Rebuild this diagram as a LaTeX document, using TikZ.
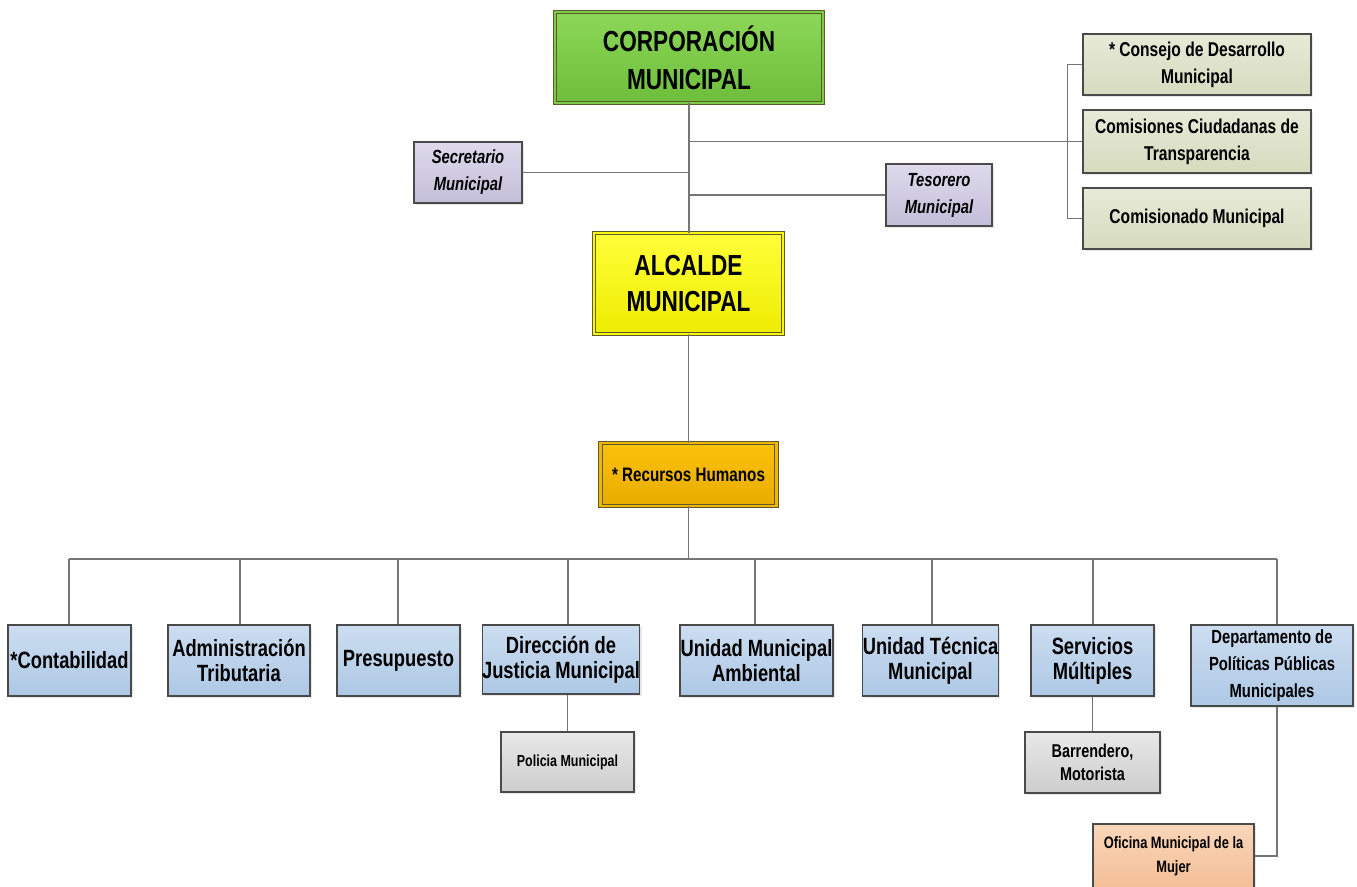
\documentclass[tikz,border=0pt]{standalone}
\usepackage{fontspec}
\setmainfont[FakeStretch=0.78]{Liberation Sans}
\usetikzlibrary{shadows}

\definecolor{linegray}{HTML}{767676}
\definecolor{boxedge}{HTML}{4A4A4A}
\definecolor{olivedge}{HTML}{5E5A2E}
\definecolor{corpmid}{HTML}{7CCB47}
\definecolor{corptop}{HTML}{8DD758}
\definecolor{corpbot}{HTML}{6DBE3B}
\definecolor{alcmid}{HTML}{FAF60A}
\definecolor{alctop}{HTML}{FFFF3A}
\definecolor{alcbot}{HTML}{EEEC00}
\definecolor{rrhhmid}{HTML}{F2B600}
\definecolor{rrhhtop}{HTML}{FBC20A}
\definecolor{rrhhbot}{HTML}{E8AC00}
\definecolor{lilatop}{HTML}{DEDAEC}
\definecolor{lilabot}{HTML}{C3BED8}
\definecolor{olivotop}{HTML}{E7EAD7}
\definecolor{olivobot}{HTML}{D7DBBF}
\definecolor{azultop}{HTML}{CCDDF0}
\definecolor{azulbot}{HTML}{ADC8E5}
\definecolor{gristop}{HTML}{E8E8E8}
\definecolor{grisbot}{HTML}{CDCDCD}
\definecolor{melontop}{HTML}{FAD6B9}
\definecolor{melonbot}{HTML}{F3BE97}

\tikzset{
	linea/.style={draw=linegray, line width=1.7pt},
	caja/.style={draw=boxedge, line width=1.1pt, align=center, inner sep=0pt,
		drop shadow={shadow xshift=2pt, shadow yshift=-2pt, opacity=0.18}},
	dobla/.style={caja, draw=olivedge, line width=0.9pt, double distance=2.6pt},
	corpbox/.style={dobla, double=corpmid, top color=corptop, bottom color=corpbot,
		font=\bfseries\fontsize{29}{38}\selectfont},
	alcbox/.style={dobla, double=alcmid, top color=alctop, bottom color=alcbot,
		font=\bfseries\fontsize{29}{36}\selectfont},
	rrhhbox/.style={dobla, double=rrhhmid, top color=rrhhtop, bottom color=rrhhbot,
		font=\bfseries\fontsize{19.5}{24}\selectfont},
	lilabox/.style={caja, top color=lilatop, bottom color=lilabot,
		font=\bfseries\itshape\fontsize{19}{27}\selectfont},
	olivobox/.style={caja, top color=olivotop, bottom color=olivobot,
		font=\bfseries\fontsize{20}{27}\selectfont},
	azulbox/.style={caja, top color=azultop, bottom color=azulbot,
		font=\bfseries\fontsize{23.5}{25}\selectfont},
	grisbox/.style={caja, top color=gristop, bottom color=grisbot,
		font=\bfseries\fontsize{18.5}{23}\selectfont},
	melonbox/.style={caja, top color=melontop, bottom color=melonbot,
		font=\bfseries\fontsize{16.5}{24}\selectfont}
}

\begin{document}
\begin{tikzpicture}[x=1pt, y=-1pt]
	\useasboundingbox[fill=white] (0,0) rectangle (1357,886);

	% cabeza
	\node[corpbox, minimum width=268, minimum height=91] (corp) at (689,57.5) {CORPORACIÓN\\MUNICIPAL};
	\node[alcbox, minimum width=189, minimum height=101] (alc) at (688.5,283.5) {ALCALDE\\MUNICIPAL};
	\node[rrhhbox, minimum width=176, minimum height=63] (rrhh) at (688.5,474.5) {* Recursos Humanos};

	\node[lilabox, minimum width=108, minimum height=61] (secre) at (468,172.5) {Secretario\\Municipal};
	\node[lilabox, minimum width=106, minimum height=62] (teso) at (939,195) {Tesorero\\Municipal};

	\node[olivobox, minimum width=228, minimum height=61] (consejo) at (1197,64.5) {* Consejo de Desarrollo\\Municipal};
	\node[olivobox, minimum width=228, minimum height=63] (comis) at (1197,141.5) {Comisiones Ciudadanas de\\Transparencia};
	\node[olivobox, minimum width=228, minimum height=61] (comisdo) at (1197,218.5) {Comisionado Municipal};

	% unidades
	\node[azulbox, minimum width=123, minimum height=71] (conta) at (69.5,660.5) {*Contabilidad};
	\node[azulbox, minimum width=142, minimum height=71] (admin) at (239,660.5) {Administración\\Tributaria};
	\node[azulbox, minimum width=123, minimum height=71] (presu) at (398.5,660.5) {Presupuesto};
	\node[azulbox, minimum width=146, minimum height=69] (direc) at (561,659.5) {Dirección de\\Justicia Municipal};
	\node[azulbox, minimum width=153, minimum height=71] (uma) at (756.5,660.5) {Unidad Municipal\\Ambiental};
	\node[azulbox, minimum width=135, minimum height=71] (utm) at (930.5,660.5) {Unidad Técnica\\Municipal};
	\node[azulbox, minimum width=123, minimum height=71] (serv) at (1092.5,660.5) {Servicios\\Múltiples};
	\node[azulbox, minimum width=162, minimum height=81, font=\bfseries\fontsize{19}{27}\selectfont] (depto) at (1272,665.5) {Departamento de\\Políticas Públicas\\Municipales};

	\node[grisbox, minimum width=133, minimum height=60, font=\bfseries\fontsize{16}{22}\selectfont] (poli) at (567.5,762) {Policia Municipal};
	\node[grisbox, minimum width=135, minimum height=61] (barre) at (1092.5,762.5) {Barrendero,\\Motorista};
	\node[melonbox, minimum width=161, minimum height=64] (ofi) at (1173.5,856) {Oficina Municipal de la\\Mujer};

	% lineas
	\coordinate (busL) at (69,559);
	\coordinate (busR) at (1277,559);
	\draw[linea] (corp.south) -- (corp.south |- alc.north);
	\draw[linea] (comis.west) -- (comis.west -| corp.south);
	\draw[linea] (secre.east) -- (secre.east -| corp.south);
	\draw[linea] (teso.west) -- (teso.west -| corp.south);
	\draw[linea] (consejo.west) -- ++(-15,0) |- (comisdo.west);
	\draw[linea] (alc.south) -- (alc.south |- rrhh.north);
	\draw[linea] (rrhh.south) -- (rrhh.south |- busL);
	\draw[linea] (busL) -- (busR);
	\foreach \n/\x in {conta/69,admin/240,presu/398,direc/568,uma/755,utm/932,serv/1093,depto/1277}
		\draw[linea] (\x,559) -- (\x,559 |- \n.north);
	\draw[linea] (poli.north) -- (poli.north |- direc.south);
	\draw[linea] (barre.north) -- (serv.south);
	\draw[linea] (busR |- depto.south) |- (ofi.east);
\end{tikzpicture}
\end{document}
